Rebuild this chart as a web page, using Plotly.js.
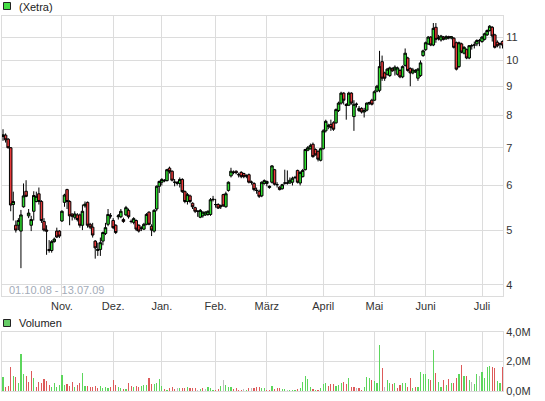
<!DOCTYPE html>
<html><head><meta charset="utf-8">
<script src="https://cdn.plot.ly/plotly-3.0.1.min.js"></script>
<style>html,body{margin:0;padding:0;background:#fff}#chart{width:545px;height:401px}</style>
</head><body><div id="chart"></div>
<script>
// ---- data ----
const firstDay = '2008-10-01';
const lastDay = '2009-07-13';
const holidays = ['2008-12-24','2008-12-25','2008-12-26','2008-12-31','2009-01-01','2009-04-10','2009-04-13','2009-05-01'];
const monthNames = {1:'Jan.',2:'Feb.',3:'März',4:'April',5:'Mai',6:'Juni',7:'Juli',8:'Aug.',9:'Sep.',10:'Okt.',11:'Nov.',12:'Dez.'};
const priceTicks = [4,5,6,7,8,9,10,11];
const volumeTicks = [0,2,4]; // millions
const legendPrice = '(Xetra)';
const legendVolume = 'Volumen';
const periodLabel = '01.10.08 - 13.07.09';

const openP = [
7.33,7.37,7.25,7.00,5.55,5.10,5.10,4.98,5.50,5.86,
5.30,5.10,5.40,5.62,5.80,5.62,5.18,5.00,4.62,4.60,
4.77,4.98,4.98,5.19,5.60,5.90,5.62,5.34,5.27,5.32,
5.32,5.10,5.52,5.60,5.12,5.06,4.78,4.60,4.62,4.78,
4.93,5.12,5.30,5.20,5.10,5.28,5.28,5.22,5.32,5.42,
5.18,5.16,5.20,5.10,5.04,5.02,5.12,5.38,5.08,4.98,
5.45,5.98,6.08,6.12,6.12,6.44,6.36,6.08,6.05,6.05,
6.15,5.85,5.62,5.75,5.58,5.48,5.40,5.27,5.30,5.32,
5.33,5.33,5.66,5.55,5.55,5.50,5.78,5.50,5.88,6.24,
6.33,6.36,6.27,6.33,6.30,6.24,6.27,6.08,6.05,5.88,
5.86,5.75,6.05,6.05,5.95,6.08,6.40,6.02,5.96,5.92,
6.06,6.06,6.06,6.08,6.20,6.38,6.06,6.22,6.40,6.93,
6.97,7.10,6.95,6.90,6.65,6.97,7.50,7.65,7.70,7.75,
7.75,8.15,8.40,8.75,8.35,8.33,8.75,7.95,8.36,8.15,
8.22,8.10,8.16,8.38,8.50,8.50,8.82,8.85,9.95,9.50,
9.45,9.40,9.68,9.62,9.45,9.60,9.35,9.80,10.10,9.68,
9.50,9.55,9.30,9.40,10.20,10.45,10.70,11.00,10.65,11.45,
10.95,10.87,11.00,10.92,11.02,10.96,10.95,10.75,9.75,10.70,
10.30,10.45,10.10,10.62,10.65,10.70,10.85,10.80,10.90,11.10,
11.30,11.45,11.10,10.77,10.70,10.80];

const highP = [
7.55,7.42,7.28,7.02,5.85,5.20,5.25,5.43,6.05,6.13,
5.45,5.30,5.86,5.85,5.95,5.65,5.25,5.10,4.80,4.80,
4.85,5.05,5.00,5.42,5.80,5.92,5.65,5.35,5.40,5.36,
5.35,5.55,5.62,5.62,5.15,5.15,4.80,4.75,4.85,4.97,
5.15,5.45,5.36,5.25,5.12,5.34,5.45,5.26,5.52,5.46,
5.22,5.27,5.22,5.12,5.08,5.15,5.36,5.40,5.12,5.45,
6.00,6.12,6.18,6.16,6.42,6.48,6.38,6.16,6.10,6.20,
6.18,5.88,5.82,5.78,5.60,5.50,5.42,5.45,5.40,5.40,
5.42,5.70,5.75,5.68,5.58,5.55,5.80,5.85,6.10,6.45,
6.38,6.38,6.32,6.36,6.32,6.28,6.30,6.12,6.08,5.95,
5.90,6.10,6.15,6.12,6.00,6.52,6.42,6.08,5.98,6.04,
6.40,6.38,6.20,6.22,6.24,6.40,6.36,6.42,6.97,7.05,
7.12,7.15,6.98,6.92,7.00,7.55,7.85,7.72,7.85,7.80,
8.22,8.45,8.80,8.78,8.40,8.80,8.78,8.50,8.42,8.30,
8.26,8.24,8.42,8.45,8.55,8.85,9.05,10.40,10.20,9.55,
9.70,9.75,9.72,9.80,9.75,9.65,9.80,10.50,10.15,9.72,
9.70,9.65,9.70,10.00,10.45,10.80,11.05,11.05,11.65,11.65,
11.10,11.10,11.05,11.08,11.06,11.05,11.00,10.80,10.80,10.75,
10.60,10.50,10.65,10.70,10.80,10.90,10.92,11.05,11.20,11.35,
11.55,11.50,11.15,10.85,10.75,10.85];

const lowP = [
7.20,7.15,6.98,5.40,5.20,4.95,5.00,4.28,5.48,5.72,
5.25,4.98,5.20,5.60,5.55,5.15,4.97,4.52,4.56,4.56,
4.75,4.84,4.84,5.17,5.50,5.45,5.10,5.20,5.22,5.18,
5.05,5.00,5.48,5.05,5.02,4.85,4.45,4.50,4.50,4.70,
4.90,5.08,5.24,5.02,4.92,5.22,5.25,5.15,5.30,5.24,
5.14,5.12,4.98,4.95,4.98,5.00,5.10,5.10,4.88,4.95,
5.40,5.82,6.00,6.08,6.10,6.30,6.10,5.98,6.00,5.95,
5.82,5.58,5.55,5.58,5.45,5.36,5.28,5.25,5.26,5.30,
5.30,5.30,5.62,5.48,5.45,5.45,5.50,5.48,5.85,6.20,
6.28,6.28,6.20,6.18,6.18,6.18,6.05,6.02,5.86,5.80,
5.70,5.72,6.02,5.98,5.92,6.05,6.00,5.95,5.88,5.90,
6.02,6.02,6.04,6.00,6.16,6.05,6.00,6.20,6.38,6.90,
6.95,6.72,6.78,6.62,6.62,6.95,7.45,7.55,7.50,7.50,
7.72,8.10,8.35,8.35,7.85,8.30,8.35,7.50,8.25,8.10,
8.05,7.92,8.12,8.34,8.32,8.48,8.78,8.78,9.20,9.20,
9.40,9.35,9.55,9.40,9.40,9.30,9.30,9.75,9.55,9.00,
9.45,9.50,9.20,9.35,10.15,10.40,10.65,10.60,10.60,10.75,
10.85,10.80,10.85,10.88,10.90,10.90,10.50,9.60,9.70,10.30,
10.25,10.05,10.05,10.45,10.50,10.60,10.60,10.75,10.85,11.05,
11.25,10.80,10.50,10.55,10.50,10.50];

const closeP = [
7.38,7.23,7.00,5.54,5.62,5.00,5.20,5.32,5.75,5.74,
5.36,5.22,5.76,5.74,5.62,5.20,5.00,4.98,4.60,4.77,
4.82,4.86,4.88,5.40,5.77,5.62,5.30,5.29,5.34,5.22,
5.10,5.40,5.56,5.10,5.06,4.90,4.65,4.62,4.75,4.95,
5.05,5.33,5.30,5.05,4.95,5.30,5.40,5.18,5.48,5.28,
5.18,5.24,5.02,4.98,5.04,5.12,5.33,5.12,5.00,5.42,
5.98,6.10,6.15,6.12,6.40,6.35,6.13,6.08,6.08,6.15,
5.85,5.62,5.78,5.62,5.50,5.40,5.40,5.42,5.38,5.38,
5.40,5.66,5.67,5.55,5.47,5.52,5.52,5.80,6.08,6.36,
6.33,6.32,6.27,6.22,6.22,6.24,6.08,6.08,5.90,5.88,
5.74,6.08,6.12,6.10,5.98,6.50,6.03,6.02,5.90,6.02,
6.06,6.06,6.13,6.18,6.20,6.08,6.33,6.38,6.95,7.00,
7.06,6.75,6.80,6.68,6.97,7.50,7.80,7.65,7.60,7.55,
8.18,8.40,8.75,8.50,8.32,8.75,8.40,8.36,8.36,8.22,
8.10,8.15,8.40,8.42,8.36,8.80,9.00,9.75,9.30,9.30,
9.65,9.70,9.58,9.73,9.70,9.35,9.75,10.30,9.60,9.50,
9.62,9.60,9.65,9.90,10.40,10.75,11.00,10.65,11.40,10.90,
10.95,11.05,10.90,11.02,10.96,11.02,10.55,9.65,10.75,10.35,
10.55,10.10,10.62,10.62,10.65,10.85,10.85,11.00,11.15,11.30,
11.50,11.05,10.55,10.62,10.70,10.65];

// volume in millions of shares
const volumeM = [
0.95,0.30,0.34,1.65,1.00,0.93,0.56,2.51,1.15,1.00,
0.63,1.36,0.88,0.30,0.63,0.56,0.81,0.67,0.43,0.30,
0.56,0.25,0.41,1.08,0.41,0.47,0.34,0.63,0.30,0.41,
0.56,1.24,0.34,0.34,0.25,0.30,0.34,0.18,0.34,0.18,
0.25,0.18,0.25,0.75,0.41,0.25,0.18,0.14,0.14,0.52,
0.34,0.30,0.34,0.30,0.34,0.41,0.41,0.86,0.47,0.47,
0.56,0.79,0.34,0.11,0.07,0.18,0.25,0.14,0.18,0.18,
0.18,0.18,0.25,0.18,0.18,0.18,0.07,0.11,0.18,0.11,
0.25,0.18,0.07,0.07,0.14,0.34,0.75,0.41,0.30,0.25,
0.14,0.18,0.07,0.04,0.11,0.07,0.18,0.18,0.18,0.25,
0.25,0.18,0.18,0.07,0.07,0.34,0.14,0.18,0.18,0.11,
0.11,0.07,0.07,0.07,0.07,0.11,0.18,0.63,1.00,0.79,
0.30,0.11,0.07,0.07,0.20,0.47,0.56,0.34,0.47,0.47,
0.34,0.41,0.52,0.63,0.47,0.90,0.25,0.25,0.18,0.20,
0.07,0.25,0.97,0.86,0.75,0.67,0.56,3.12,1.58,0.30,
0.75,0.56,0.47,0.54,0.23,0.41,0.56,0.52,0.25,0.86,
0.18,0.25,0.25,1.31,1.15,1.15,0.81,0.75,2.78,1.24,
0.63,0.30,0.75,0.41,0.81,0.56,0.56,0.88,1.15,1.76,
0.99,0.99,0.75,0.63,0.47,1.15,1.02,1.31,0.88,1.60,
1.70,1.65,1.54,0.67,0.56,1.60];

// ---- derived ----
function tradingDays(){
  const hol = new Set(holidays);
  const out = [];
  let d = new Date(firstDay + 'T00:00:00Z');
  const end = new Date(lastDay + 'T00:00:00Z');
  while (d <= end){
    const wd = d.getUTCDay();
    const s = d.toISOString().slice(0,10);
    if (wd !== 0 && wd !== 6 && !hol.has(s)) out.push(s);
    d = new Date(d.getTime() + 86400000);
  }
  return out;
}
const days = tradingDays();
const idx = days.map((_, i) => i);
const tickVals = [], tickText = [];
days.forEach((s, i) => {
  if (i > 0 && s.slice(5,7) !== days[i-1].slice(5,7)) { tickVals.push(i); tickText.push(monthNames[+s.slice(5,7)]); }
});

const GRID = '#dcdcdc';
const UP = '#2fe02f', DOWN = '#e8393a';
const VUP = '#5cd65c', VDOWN = '#dd5a5a', VFLAT = '#bdbdbd';
const volColors = closeP.map((c, i) => {
  const p = i ? closeP[i-1] : openP[0];
  return c > p ? VUP : (c < p ? VDOWN : VFLAT);
});

const W = 545, H = 401;
const xDom = [2/W, 503/W];
const xRange = [-0.4, idx.length - 0.8];

const traces = [
  {type:'candlestick', x: idx, open: openP, high: highP, low: lowP, close: closeP,
   xaxis:'x', yaxis:'y', whiskerwidth: 0, hoverinfo:'skip',
   increasing:{fillcolor: UP, line:{color:'#000', width:1}},
   decreasing:{fillcolor: DOWN, line:{color:'#000', width:1}}},
  {type:'bar', x: idx, y: volumeM, xaxis:'x2', yaxis:'y2', width: 0.45,
   marker:{color: volColors, line:{width:0}}, hoverinfo:'skip'}
];

const axBase = {showgrid:true, gridcolor:GRID, gridwidth:1, showline:true, mirror:true,
  linecolor:GRID, linewidth:1, ticks:'', zeroline:false, fixedrange:true};

const layout = {
  width: W, height: H, margin:{l:0, r:0, t:0, b:0},
  paper_bgcolor:'#fff', plot_bgcolor:'#fff', showlegend:false, hovermode:false,
  font:{family:'Arial, "Liberation Sans", sans-serif', size:11, color:'#333'},
  bargap: 0, boxgap: 0.02, boxgroupgap: 0,
  xaxis: Object.assign({}, axBase, {domain:xDom, anchor:'y', range:xRange,
    tickmode:'array', tickvals:tickVals, ticktext:tickText, rangeslider:{visible:false},
    tickfont:{size:11, color:'#333'}}),
  yaxis: Object.assign({}, axBase, {domain:[105/H, 385/H], anchor:'x', type:'log',
    range:[Math.log10(3.82), Math.log10(11.99)], side:'right',
    tickmode:'array', tickvals:priceTicks, ticktext:priceTicks.map(String),
    tickfont:{size:11, color:'#333'}}),
  xaxis2: Object.assign({}, axBase, {domain:xDom, anchor:'y2', range:xRange,
    tickmode:'array', tickvals:tickVals, showticklabels:false}),
  yaxis2: Object.assign({}, axBase, {domain:[10/H, 69/H], anchor:'x2', range:[0, 4], side:'right',
    tickmode:'array', tickvals:volumeTicks,
    ticktext:volumeTicks.map(v => v.toFixed(1).replace('.', ',') + 'M'),
    tickfont:{size:11, color:'#333'}}),
  shapes:[
    {type:'rect', xref:'paper', yref:'paper', x0:3.5/W, x1:10.5/W, y0:(H-9.5)/H, y1:(H-2.5)/H,
     fillcolor:'#44dd44', line:{color:'#222', width:1}},
    {type:'rect', xref:'paper', yref:'paper', x0:3.5/W, x1:10.5/W, y0:(H-326.5)/H, y1:(H-319.5)/H,
     fillcolor:'#66cc66', line:{color:'#222', width:1}}
  ],
  annotations:[
    {xref:'paper', yref:'paper', x:17/W, y:(H-6.5)/H, xanchor:'left', yanchor:'middle',
     text:legendPrice, showarrow:false, font:{size:11, color:'#222'}},
    {xref:'paper', yref:'paper', x:17/W, y:(H-323)/H, xanchor:'left', yanchor:'middle',
     text:legendVolume, showarrow:false, font:{size:11, color:'#222'}},
    {xref:'paper', yref:'paper', x:7/W, y:(H-290)/H, xanchor:'left', yanchor:'middle',
     text:periodLabel, showarrow:false, font:{size:11, color:'#a3abb8'}}
  ]
};

Plotly.newPlot('chart', traces, layout, {staticPlot:true, displayModeBar:false});
</script>
</body></html>
